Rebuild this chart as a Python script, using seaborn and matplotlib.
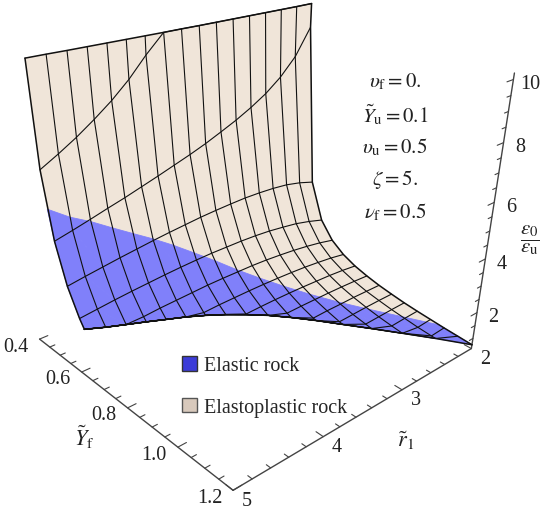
import numpy as np
import matplotlib
matplotlib.use("Agg")
import matplotlib.pyplot as plt
from matplotlib.patches import Patch
import seaborn as sns

sns.set_theme(style="white")
plt.rcParams["font.family"] = ["Liberation Serif", "DejaVu Serif"]
plt.rcParams["mathtext.fontset"] = "stix"

nan = np.nan

# mesh nodes of the surface (r1 columns, Yf rows)
r1_nodes = [5.0, 4.8125, 4.625, 4.4375, 4.25, 4.0625, 3.875, 3.6875, 3.5,
            3.3125, 3.125, 2.9375, 2.75, 2.5625, 2.375, 2.1875, 2.0]
yf_nodes = [0.40, 0.45, 0.50, 0.55, 0.60, 0.65, 0.70, 0.75, 0.80,
            0.85, 0.90, 0.95, 1.00, 1.05, 1.10, 1.15, 1.20]

# eps0/eps_u at the mesh nodes, one row per Yf node (nan = not drawn)
z_table = [
    [nan] * 17,
    [6.88, 7.21, 7.57, 7.98, 8.43, 8.96, 9.60] + [nan] * 10,
    [4.73, 4.88, 5.04, 5.21, 5.37, 5.55, 5.73, 5.92, 6.11, 6.32, 6.56, 6.81, 7.10, 7.44, 7.88, 8.47, 9.38],
    [3.43, 3.53, 3.62, 3.71, 3.79, 3.87, 3.94, 4.00, 4.06, 4.10, 4.13, 4.15, 4.14, 4.11, 4.05, 3.93, 3.76],
    [2.57, 2.64, 2.71, 2.77, 2.82, 2.87, 2.91, 2.94, 2.96, 2.96, 2.96, 2.94, 2.90, 2.83, 2.75, 2.62, 2.46],
    [nan] * 3 + [2.12, 2.17, 2.20, 2.23, 2.26, 2.27, 2.27, 2.27, 2.25, 2.21, 2.16, 2.09, 2.00, 1.88],
    [nan] * 6 + [1.76, 1.79, 1.80, 1.81, 1.81, 1.80, 1.78, 1.75, 1.70, 1.64, 1.55],
    [nan] * 8 + [1.46, 1.48, 1.49, 1.49, 1.48, 1.46, 1.44, 1.40, 1.34],
    [nan] * 10 + [1.25, 1.26, 1.26, 1.26, 1.25, 1.23, 1.20],
    [nan] * 11 + [1.08, 1.10, 1.10, 1.11, 1.10, 1.09],
    [nan] * 12 + [0.96, 0.98, 1.00, 1.01, 1.01],
    [nan] * 13 + [0.89, 0.91, 0.93, 0.94],
    [nan] * 14 + [0.84, 0.87, 0.89],
    [nan] * 15 + [0.81, 0.85],
    [nan] * 15 + [0.77, 0.81],
    [nan] * 16 + [0.78],
    [nan] * 17,
]

# where each r1 column leaves the plot range at the top
z_clip = 10.2
yf_top = [0.410, 0.416, 0.423, 0.429, 0.435, 0.441, 0.447, 0.453, 0.458,
          0.464, 0.469, 0.474, 0.479, 0.484, 0.489, 0.494, 0.498]
# lower end of the surface in each column
yf_bot = [0.620, 0.635, 0.648, 0.662, 0.676, 0.691, 0.708, 0.728, 0.752,
          0.781, 0.817, 0.861, 0.913, 0.973, 1.040, 1.115, 1.200]
z_bot = [2.30, 2.19, 2.09, 2.00, 1.90, 1.81, 1.70, 1.58, 1.45,
         1.32, 1.18, 1.05, 0.93, 0.85, 0.79, 0.76, 0.75]
# elastic / elastoplastic border in each column
yf_el = [0.474, 0.489, 0.502, 0.517, 0.532, 0.548, 0.566, 0.588, 0.613,
         0.645, 0.682, 0.726, 0.779, 0.840, 0.910, 0.990, 1.081]
z_el = [5.69, 5.28, 4.97, 4.61, 4.26, 3.92, 3.55, 3.15, 2.75,
        2.33, 1.96, 1.63, 1.35, 1.13, 0.98, 0.88, 0.82]

yf_ticks = [0.4, 0.6, 0.8, 1.0, 1.2]
yf_labels = ["0.4", "0.6", "0.8", "1.0", "1.2"]
r1_ticks = [2, 3, 4, 5]
z_ticks = [2, 4, 6, 8, 10]

params = [r"$\upsilon_{\mathrm{f}} = 0.$", r"$\tilde{Y}_{\mathrm{u}} = 0.1$",
          r"$\upsilon_{\mathrm{u}} = 0.5$", r"$\zeta = 5.$", r"$\nu_{\mathrm{f}} = 0.5$"]

beige = "#f0e5d9"
blue = "#8080fa"

Z = np.array(z_table, dtype=float)
yf = np.array(yf_nodes)
ncol = len(r1_nodes)


def column_points(j, lo, hi):
    keep = (~np.isnan(Z[:, j])) & (yf > lo) & (yf < hi)
    return list(zip(yf[keep], Z[keep, j]))


def strip_grid(cols):
    n = max(len(c) for c in cols)
    X = np.zeros((n, ncol))
    Y = np.zeros((n, ncol))
    Zs = np.zeros((n, ncol))
    for j, c in enumerate(cols):
        c = c + [c[-1]] * (n - len(c))
        X[:, j] = r1_nodes[j]
        Y[:, j] = [p[0] for p in c]
        Zs[:, j] = [p[1] for p in c]
    return X, Y, Zs


fig = plt.figure(figsize=(5.5, 5.1), dpi=100)
ax = fig.add_axes([-0.064, 0.035, 1.06, 1.06], projection="3d", computed_zorder=False)
ax.set_proj_type("persp", focal_length=0.38)
ax.view_init(elev=27.5, azim=45.5, roll=-2.8)
ax.set_box_aspect((1.03, 0.92, 0.94), zoom=1.0)
ax.set_axis_off()

z_lo, z_hi = 0.6, 10.2
ax.set_xlim(2, 5)
ax.set_ylim(0.4, 1.2)
ax.set_zlim(z_lo, z_hi)

# filled surface: elastoplastic part above the border, elastic part below
beige_cols = [[(yf_top[j], z_clip)] + column_points(j, yf_top[j], yf_el[j]) + [(yf_el[j], z_el[j])]
              for j in range(ncol)]
blue_cols = [[(yf_el[j], z_el[j])] + column_points(j, yf_el[j], yf_bot[j]) + [(yf_bot[j], z_bot[j])]
             for j in range(ncol)]
for cols, col in [(beige_cols, beige), (blue_cols, blue)]:
    X, Y, Zs = strip_grid(cols)
    ax.plot_surface(X, Y, Zs, color=col, edgecolor=col, linewidth=0.6, shade=False,
                    rstride=1, cstride=1, zorder=1)

# mesh lines
for j, r in enumerate(r1_nodes):
    pts = [(yf_top[j], z_clip)] + column_points(j, yf_top[j], yf_bot[j]) + [(yf_bot[j], z_bot[j])]
    lw = 1.1 if j in (0, ncol - 1) else 0.8
    ax.plot([r] * len(pts), [p[0] for p in pts], [p[1] for p in pts], color="#111111", lw=lw, zorder=3)
for i, y in enumerate(yf_nodes):
    ys, zs = [], []
    for j in range(ncol):
        if y <= yf_top[j]:
            ys.append(yf_top[j]); zs.append(z_clip)
        elif y >= yf_bot[j]:
            ys.append(yf_bot[j]); zs.append(z_bot[j])
        else:
            ys.append(y); zs.append(Z[i, j])
    lw = 1.1 if i in (0, len(yf_nodes) - 1) else 0.8
    ax.plot(r1_nodes, ys, zs, color="#111111", lw=lw, zorder=3)

# axes drawn along the front box edges
axc = "#444444"
ax.plot([5, 5], [0.4, 1.2], [z_lo, z_lo], color=axc, lw=1.0, zorder=2)
ax.plot([5, 2], [1.2, 1.2], [z_lo, z_lo], color=axc, lw=1.0, zorder=2)
ax.plot([2, 2], [1.2, 1.2], [z_lo, z_hi], color=axc, lw=1.0, zorder=2)

for t in np.arange(0.4, 1.201, 0.05):
    L = 0.09 if min(abs(t - v) for v in yf_ticks) < 1e-6 else 0.055
    ax.plot([5, 5 - L], [t, t], [z_lo, z_lo], color=axc, lw=0.8, zorder=2)
for t in np.arange(2.0, 5.001, 0.2):
    L = 0.025 if min(abs(t - v) for v in r1_ticks) < 1e-6 else 0.015
    ax.plot([t, t], [1.2, 1.2 - L], [z_lo, z_lo], color=axc, lw=0.8, zorder=2)
for t in np.arange(1.0, 10.001, 0.5):
    L = 0.09 if min(abs(t - v) for v in z_ticks) < 1e-6 else 0.055
    ax.plot([2, 2 + L], [1.2, 1.2], [t, t], color=axc, lw=0.8, zorder=2)

# labels are placed in figure space at the projected 3D anchor
fig.canvas.draw()
M = ax.get_proj()
to_fig = fig.transFigure.inverted()


def label3d(x, y, z, s, dx, dy, size=14.5):
    v = M @ np.array([x, y, z, 1.0])
    px, py = ax.transData.transform((v[0] / v[3], v[1] / v[3]))
    fx, fy = to_fig.transform((px + dx * fig.dpi / 72, py + dy * fig.dpi / 72))
    fig.text(fx, fy, s, ha="center", va="center", fontsize=size, color="#222222")


for t, s in zip(yf_ticks, yf_labels):
    label3d(5, t, z_lo, s, -17, -5)
for t in r1_ticks:
    label3d(t, 1.2, z_lo, str(t), 10, -7)
for t in z_ticks:
    label3d(2, 1.2, t, str(t), 12, -3)

label3d(5, 0.85, z_lo, r"$\tilde{Y}_{\mathrm{f}}$", -40, -14, size=16)
label3d(3.5, 1.2, z_lo, r"$\tilde{r}_1$", 30, -20, size=16)
label3d(2, 1.2, 5.0, r"$\dfrac{\varepsilon_0}{\epsilon_{\mathrm{u}}}$", 29, -6, size=15)

for k, s in enumerate(params):
    fig.text(395 / 550, 1 - (82 + 32.5 * k) / 510, s, ha="center", va="center",
             fontsize=15, color="#222222")

handles = [Patch(facecolor="#3c3cd8", edgecolor="#333333", label="Elastic rock"),
           Patch(facecolor="#d8c9bc", edgecolor="#555555", label="Elastoplastic rock")]
fig.legend(handles=handles, loc="upper left", bbox_to_anchor=(182 / 550, 1 - 357 / 510),
           frameon=False, fontsize=14.5, handlelength=0.75, handleheight=0.75,
           handletextpad=0.35, labelspacing=1.1, borderpad=0, borderaxespad=0)

fig.savefig("out.png", dpi=100, facecolor="white")
